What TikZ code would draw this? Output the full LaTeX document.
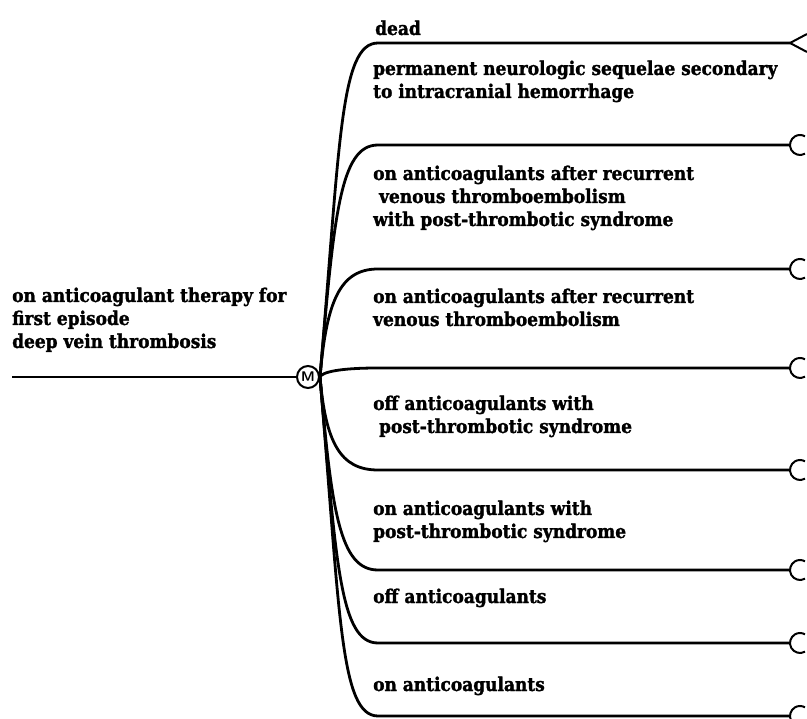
\documentclass[tikz,border=0pt]{standalone}
\usepackage{fontspec}
\setmainfont{DejaVu Serif}[BoldFeatures={FakeBold=1.5,FakeStretch=0.9}]
\usetikzlibrary{calc}
\begin{document}
\begin{tikzpicture}[x=1pt,y=-1pt,
  lbl/.style={anchor=base west, inner sep=0pt, align=left, font=\bfseries\fontsize{18.9}{23}\selectfont},
  conn/.style={line width=2.8pt},
  term/.style={line width=2pt},
  chance/.style={circle, draw, line width=2pt, minimum size=22pt, inner sep=0pt, font=\sffamily\bfseries\fontsize{14}{14}\selectfont}]
\useasboundingbox (0,0) rectangle (807,719);
% root
\node[lbl] (rootlbl) at (12,348) {on anticoagulant therapy for\\first episode\\deep vein thrombosis};
\coordinate (start) at (12,377);
\node[chance] (root) at (308,377) {M};
\coordinate (J) at (320,377);
\draw[conn] (start) -- (root.west);
\draw[conn] (root.east) -- (J);
% terminals
\foreach \n/\y in {1/43,2/145,3/269,4/368,5/470,6/570,7/643,8/716}{
  \coordinate (t\n) at (790,\y);
  \coordinate (b\n) at (378,\y);
}
% branches
\draw[conn] (J) .. controls (340,143) and (340,43) .. (b1) -- (t1);
\draw[conn] (J) .. controls (334,215) and (340,145) .. (b2) -- (t2);
\draw[conn] (J) .. controls (326.5,301) and (340,269) .. (b3) -- (t3);
\draw[conn] (J) .. controls (322,372) and (340,368) .. (b4) -- (t4);
\draw[conn] (J) .. controls (325.6,442) and (340,470) .. (b5) -- (t5);
\draw[conn] (J) .. controls (331.6,512) and (340,570) .. (b6) -- (t6);
\draw[conn] (J) .. controls (336,563) and (340,643) .. (b7) -- (t7);
\draw[conn] (J) .. controls (340,614) and (340,716) .. (b8) -- (t8);
% terminal symbols
\draw[term] (807,34) -- (t1) -- (807,52);
\foreach \n in {2,...,8}{
  \draw[term] ($(t\n)+(15,8.66)$) arc[start angle=60, end angle=300, radius=10];
}
% labels
\node[lbl] (l1) at (375,35) {dead};
\node[lbl] (l2) at (373,98) {permanent neurologic sequelae secondary\\to intracranial hemorrhage};
\node[lbl] (l3) at (373,226) {on anticoagulants after recurrent\\\ venous thromboembolism\\with post-thrombotic syndrome};
\node[lbl] (l4) at (373,326) {on anticoagulants after recurrent\\venous thromboembolism};
\node[lbl] (l5) at (373,433) {off anticoagulants with\\\ post-thrombotic syndrome};
\node[lbl] (l6) at (373,538) {on anticoagulants with\\post-thrombotic syndrome};
\node[lbl] (l7) at (373,603) {off anticoagulants};
\node[lbl] (l8) at (373,691) {on anticoagulants};
\end{tikzpicture}
\end{document}
